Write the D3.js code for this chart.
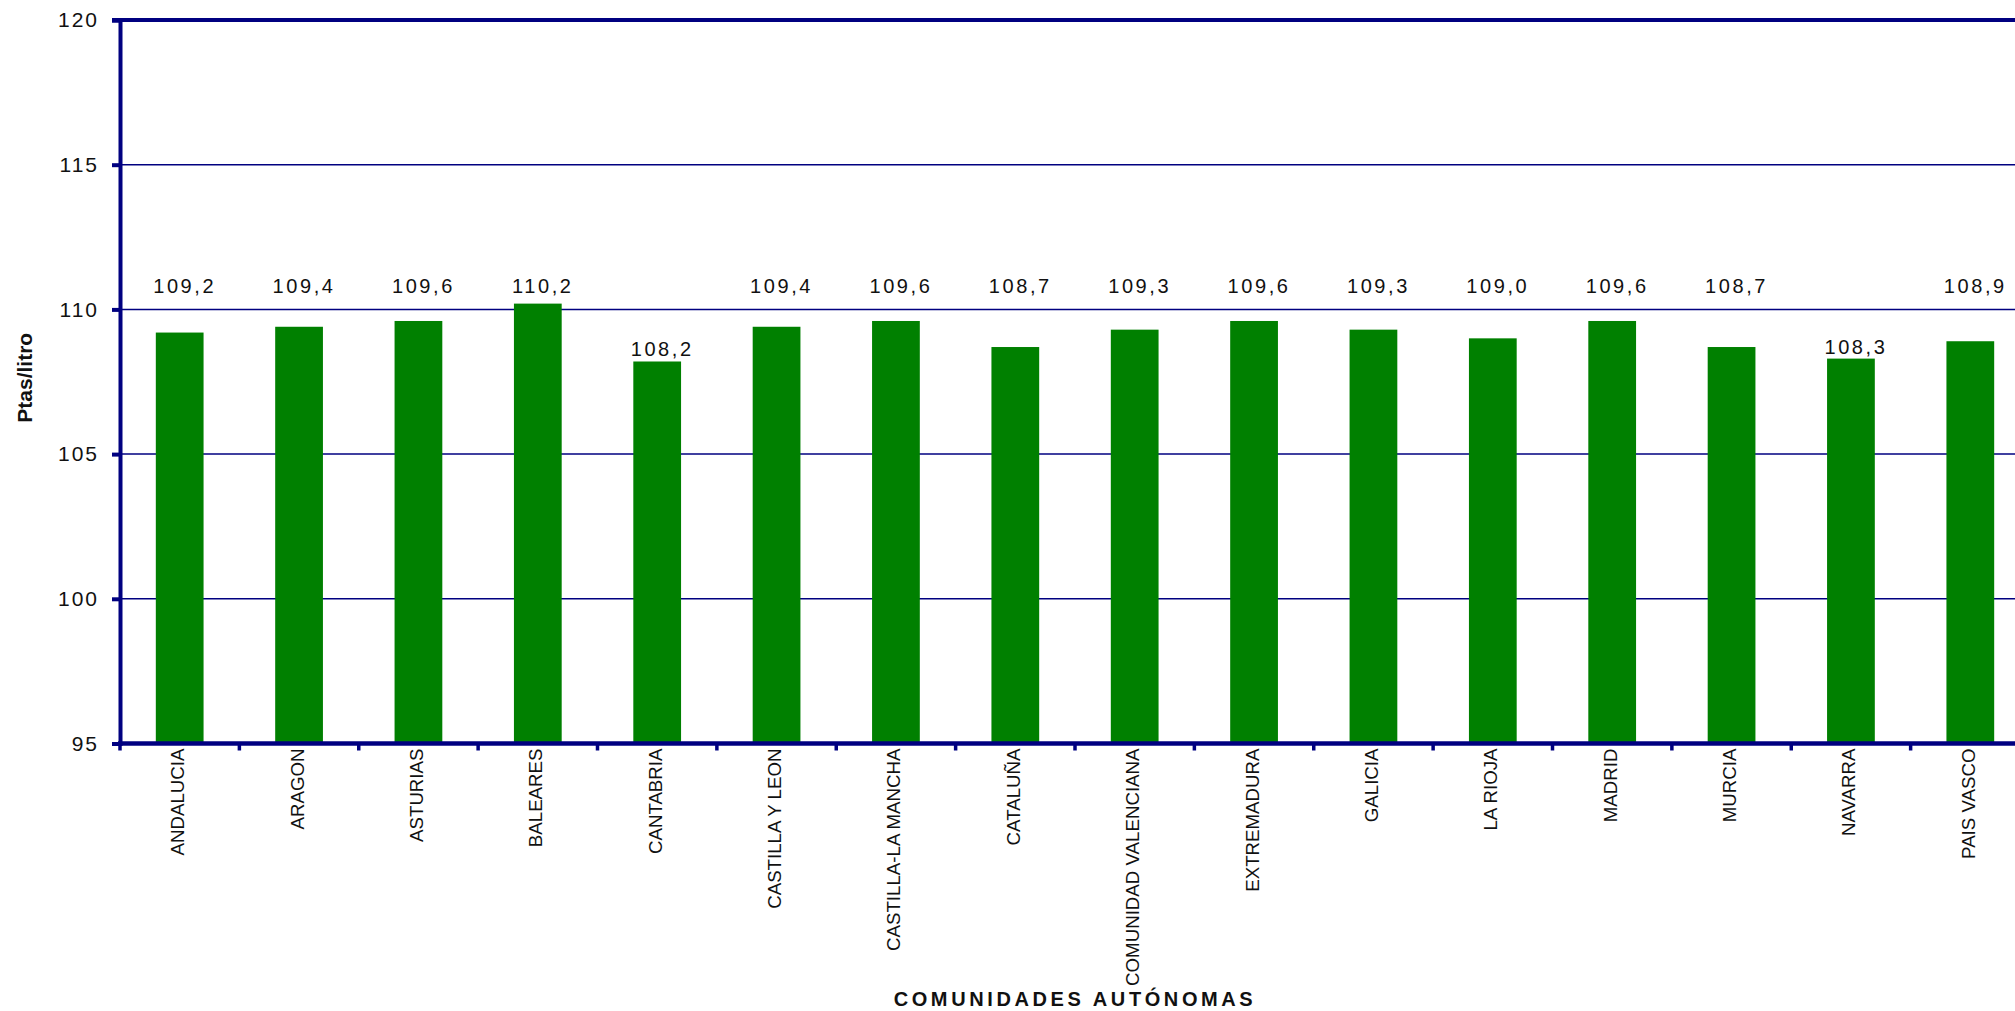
<!DOCTYPE html>
<html>
<head>
<meta charset="utf-8" />
<title></title>
<style>
html, body {
    padding: 0px;
    margin: 0px;
    background: #fff;
}
svg {
    display: block;
    font-family: "Liberation Sans", Arial, sans-serif;
}
.grid line {
    stroke: #000080;
    stroke-width: 1.5;
}
</style>
</head>
<body>
<div id="chart"></div>

<script src="https://d3js.org/d3.v7.min.js"></script>
<script>
!(function(){
    "use strict"

    // datos
    var comunidades = ["ANDALUCIA", "ARAGON", "ASTURIAS", "BALEARES", "CANTABRIA",
        "CASTILLA Y LEON", "CASTILLA-LA MANCHA", "CATALUÑA", "COMUNIDAD VALENCIANA",
        "EXTREMADURA", "GALICIA", "LA RIOJA", "MADRID", "MURCIA", "NAVARRA", "PAIS VASCO"]
    var precios = [109.2, 109.4, 109.6, 110.2, 108.2, 109.4, 109.6, 108.7, 109.3,
        109.6, 109.3, 109.0, 109.6, 108.7, 108.3, 108.9]
    var yTicks = [95, 100, 105, 110, 115, 120]

    var W = 2015, H = 1011
    var left = 120, top = 20, bottom = 743.5
    var right = 2030 // the plot runs past the picture edge

    var navy = "#000080", green = "#008000"

    var es = d3.formatLocale({decimal: ",", thousands: ".", grouping: [3], currency: ["", " Pts"]})
    var fmt = es.format(".1f")

    var svg = d3.select("#chart").append("svg")
        .attr("width", W)
        .attr("height", H)

    var x = d3.scaleBand()
        .domain(comunidades)
        .range([left, right])
        .paddingInner(0.6)
        .paddingOuter(0.3)

    var y = d3.scaleLinear()
        .domain([95, 120])
        .range([bottom, top])

    var step = x.step()

    // gridlines
    svg.append("g").attr("class", "grid")
        .selectAll("line")
        .data(yTicks.slice(1, -1))
        .enter().append("line")
        .attr("x1", left).attr("x2", W)
        .attr("y1", function(d){ return y(d) })
        .attr("y2", function(d){ return y(d) })

    // bars
    svg.append("g")
        .selectAll("rect")
        .data(precios)
        .enter().append("rect")
        .attr("x", function(d, i){ return x(comunidades[i]) })
        .attr("width", x.bandwidth())
        .attr("y", function(d){ return y(d) })
        .attr("height", function(d){ return y(95) - y(d) })
        .attr("fill", green)

    // value labels
    svg.append("g")
        .selectAll("text")
        .data(precios)
        .enter().append("text")
        .attr("x", function(d, i){ return x(comunidades[i]) + x.bandwidth() / 2 + 5 })
        .attr("y", function(d){ return d < 108.5 ? y(d) - 5 : y(110.55) })
        .attr("text-anchor", "middle")
        .attr("font-size", "20px")
        .attr("letter-spacing", "2.6px")
        .attr("fill", "#111")
        .text(function(d){ return fmt(d) })

    // top border
    svg.append("line")
        .attr("x1", left - 8).attr("x2", W)
        .attr("y1", y(120)).attr("y2", y(120))
        .attr("stroke", navy).attr("stroke-width", 4)

    // y axis
    var yAxis = d3.axisLeft(y)
        .tickValues(yTicks)
        .tickSize(8)
        .tickPadding(13)
        .tickFormat(d3.format("d"))

    var gy = svg.append("g")
        .attr("transform", "translate(" + left + ",0)")
        .call(yAxis)
    gy.select(".domain").attr("stroke", navy).attr("stroke-width", 4)
    gy.selectAll(".tick line").attr("stroke", navy).attr("stroke-width", 4)
    gy.selectAll(".tick text")
        .attr("font-family", "Liberation Sans, Arial, sans-serif")
        .attr("font-size", "21px")
        .attr("letter-spacing", "2px")
        .attr("fill", "#111")

    // x axis line and boundary ticks
    svg.append("line")
        .attr("x1", left - 2).attr("x2", W)
        .attr("y1", bottom).attr("y2", bottom)
        .attr("stroke", navy).attr("stroke-width", 4.5)

    svg.append("g")
        .selectAll("line")
        .data(d3.range(comunidades.length + 1))
        .enter().append("line")
        .attr("x1", function(i){ return left + i * step })
        .attr("x2", function(i){ return left + i * step })
        .attr("y1", bottom).attr("y2", bottom + 7)
        .attr("stroke", navy).attr("stroke-width", 3.5)

    // category labels
    svg.append("g")
        .selectAll("text")
        .data(comunidades)
        .enter().append("text")
        .attr("transform", function(d){
            return "translate(" + (x(d) + x.bandwidth() / 2 - 2) + "," + (bottom + 5) + ") rotate(-90)"
        })
        .attr("dy", "0.35em")
        .attr("text-anchor", "end")
        .attr("font-size", "18.7px")
        .attr("fill", "#111")
        .text(function(d){ return d })

    // axis titles
    svg.append("text")
        .attr("x", (left + right) / 2)
        .attr("y", 1006)
        .attr("text-anchor", "middle")
        .attr("font-size", "20px")
        .attr("font-weight", "bold")
        .attr("letter-spacing", "3.6px")
        .attr("fill", "#111")
        .text("COMUNIDADES AUTÓNOMAS")

    svg.append("text")
        .attr("transform", "translate(32," + ((top + bottom) / 2 - 4) + ") rotate(-90)")
        .attr("text-anchor", "middle")
        .attr("font-size", "21px")
        .attr("font-weight", "bold")
        .attr("fill", "#111")
        .text("Ptas/litro")

}());
</script>
</body>
</html>
